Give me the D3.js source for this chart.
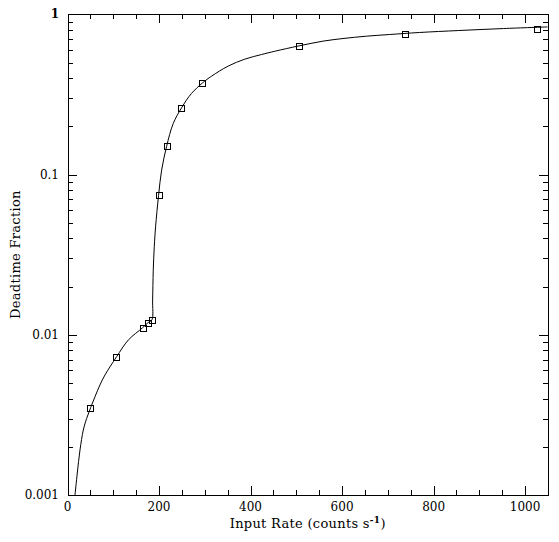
<!DOCTYPE html>
<html><head><meta charset="utf-8">
<script src="https://cdn.jsdelivr.net/npm/d3@7/dist/d3.min.js"></script>
<style>body{margin:0;background:#fff}svg{display:block}text{font-family:"DejaVu Serif",serif;fill:#000}</style>
</head><body>
<script>
// measured points
const rate = [50, 107, 164, 176, 184, 199, 217, 249, 295, 505, 738, 1027];
const frac = [0.0035, 0.0073, 0.0111, 0.0119, 0.0124, 0.074, 0.150, 0.261, 0.373, 0.632, 0.751, 0.815];
// model curve
const curveRate = [16.4, 21.4, 27.3, 34.5, 41.9, 50.6, 60.0, 70.9, 81.9, 107.4, 132.8, 164, 176.5, 184.5, 186, 187.4, 189.6, 192.5, 199, 205.7, 216.6, 231, 249.3, 271, 295, 314.8, 351.1, 387.6, 424, 453, 505.5, 558.5, 602, 653, 704, 769, 855, 953, 1049];
const curveFrac = [0.001, 0.00137, 0.00191, 0.00254, 0.00301, 0.00351, 0.0041, 0.00486, 0.00561, 0.0073, 0.00927, 0.01106, 0.01194, 0.0124, 0.01646, 0.0253, 0.0354, 0.0472, 0.0741, 0.1065, 0.150, 0.208, 0.261, 0.321, 0.373, 0.411, 0.475, 0.525, 0.561, 0.588, 0.635, 0.680, 0.706, 0.730, 0.748, 0.770, 0.792, 0.815, 0.834];
const xTickLabels = [0, 200, 400, 600, 800, 1000];
const yTickLabels = ["0.001", "0.01", "0.1", "1"];
const yTickValues = [0.001, 0.01, 0.1, 1];

const W = 559, H = 542;
const L = 67.5, R = 548, T = 14.3, B = 495;
const svg = d3.select("body").append("svg").attr("width", W).attr("height", H);
const x = d3.scaleLinear().domain([0, 1050]).range([L, R]);
const y = d3.scaleLog().domain([0.001, 1]).range([B, T]);

const minorX = d3.range(0, 1051, 50);
const minorY = [];
[0.001, 0.01, 0.1].forEach(d => { for (let k = 1; k <= 9; k++) minorY.push(d * k); });
minorY.push(1);

const g = svg.append("g").attr("stroke", "#000").attr("stroke-width", 1).attr("shape-rendering", "crispEdges");
minorX.forEach(v => {
  const major = v % 200 === 0;
  const len = major ? 9 : 5;
  const px = Math.round(x(v)) + 0.5;
  g.append("line").attr("x1", px).attr("x2", px).attr("y1", B).attr("y2", B - len);
  g.append("line").attr("x1", px).attr("x2", px).attr("y1", T).attr("y2", T + len);
});
minorY.forEach(v => {
  const major = yTickValues.some(t => Math.abs(t - v) / t < 1e-9);
  const len = major ? 9 : 5;
  const py = Math.round(y(v)) + 0.5;
  g.append("line").attr("x1", L).attr("x2", L + len).attr("y1", py).attr("y2", py);
  g.append("line").attr("x1", R).attr("x2", R - len).attr("y1", py).attr("y2", py);
});
g.append("rect").attr("x", Math.round(L) + 0.5).attr("y", Math.round(T) + 0.5)
  .attr("width", Math.round(R) - Math.round(L)).attr("height", Math.round(B) - Math.round(T))
  .attr("fill", "none");

// tick labels
svg.append("g").selectAll("text").data(xTickLabels).join("text")
  .attr("x", d => x(d)).attr("y", 511).attr("text-anchor", "middle")
  .attr("font-size", 12).text(d => d);
svg.append("g").selectAll("text").data(yTickValues).join("text")
  .attr("x", 59).attr("y", d => y(d) + 4).attr("text-anchor", "end")
  .attr("font-size", 12).attr("font-weight", (d, i) => i === 3 ? "bold" : "normal")
  .text((d, i) => yTickLabels[i]);

// axis titles
const xt = svg.append("text").attr("x", (L + R) / 2).attr("y", 528).attr("text-anchor", "middle")
  .attr("font-size", 13).attr("letter-spacing", 0.3);
xt.append("tspan").text("Input Rate (counts s");
xt.append("tspan").attr("dy", -5).attr("font-size", 9).attr("font-weight", "bold").text("-1");
xt.append("tspan").attr("dy", 5).text(")");
svg.append("text").attr("transform", `translate(20,${(T + B) / 2}) rotate(-90)`)
  .attr("text-anchor", "middle").attr("font-size", 13).attr("letter-spacing", 0.3).text("Deadtime Fraction");

// curve
const pts = curveRate.map((r, i) => [r, curveFrac[i]]);
svg.append("path").datum(pts)
  .attr("d", d3.line().x(d => x(d[0])).y(d => y(d[1])).curve(d3.curveCatmullRom.alpha(0.5)))
  .attr("fill", "none").attr("stroke", "#000").attr("stroke-width", 1);

// squares
const s = 6;
svg.append("g").selectAll("rect").data(rate.map((r, i) => [r, frac[i]])).join("rect")
  .attr("x", d => Math.round(x(d[0]) - s / 2) + 0.5).attr("y", d => Math.round(y(d[1]) - s / 2) + 0.5)
  .attr("width", s).attr("height", s).attr("fill", "none").attr("stroke", "#000").attr("stroke-width", 1);
</script>
</body></html>
